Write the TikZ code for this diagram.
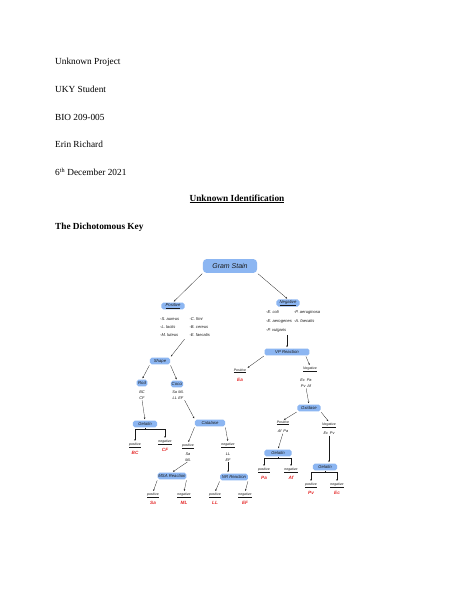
\documentclass[tikz,border=0pt]{standalone}
\usepackage{fontspec}
\setmainfont{Liberation Serif}
\newfontfamily\hand{Liberation Sans}
\usetikzlibrary{arrows.meta,calc}
\definecolor{hlblue}{RGB}{140,182,242}
\definecolor{inkred}{RGB}{228,38,38}
\definecolor{ink}{RGB}{25,25,25}
\begin{document}
\begin{tikzpicture}[x=1.2911pt,y=-1.2911pt,
 hdr/.style={anchor=west,inner sep=0pt,font=\fontsize{12}{14}\selectfont},
 hl/.style={fill=hlblue,rounded corners=2.5pt,inner xsep=1pt,inner ysep=1pt,minimum height=9pt,text=ink,font=\hand\itshape\fontsize{5.5}{6}\selectfont},
 hw/.style={inner sep=0.5pt,text=ink,font=\hand\itshape\fontsize{4.5}{5}\selectfont,align=center},
 lst/.style={inner sep=0pt,text=ink,font=\hand\itshape\fontsize{5.3}{10}\selectfont,align=left},
 sub/.style={inner sep=0.5pt,text=ink,font=\hand\itshape\fontsize{5}{7}\selectfont,align=center},
 leaf/.style={inner sep=0.5pt,text=inkred,font=\hand\bfseries\itshape\fontsize{6}{7}\selectfont},
 arr/.style={draw=ink,line width=0.35pt,-{Stealth[length=2.3pt,width=2pt]},shorten <=1pt,shorten >=1.5pt},
]
\useasboundingbox[fill=white] (0,0) rectangle (474,613);

% header text
\node[hdr] (h1) at (55,62) {Unknown Project};
\node[hdr] (h2) at (55,89) {UKY Student};
\node[hdr] (h3) at (55,117) {BIO 209-005};
\node[hdr] (h4) at (55,144) {Erin Richard};
\node[hdr] (h5) at (55,172) {6\textsuperscript{th} December 2021};
\node[inner sep=0pt,font=\fontsize{12}{14}\selectfont\bfseries] (title) at (237,199) {\underline{Unknown Identification}};
\node[hdr,font=\fontsize{12}{14}\selectfont\bfseries] (sub) at (55,227) {The Dichotomous Key};

% root
\node[hl,minimum width=70pt,minimum height=18pt,rounded corners=5pt,font=\hand\itshape\fontsize{9}{10}\selectfont] (gram) at (230,266) {Gram Stain};

% first level
\node[hl,minimum width=30pt] (pos) at (173,306) {\underline{Positive}};
\node[hl,minimum width=30pt] (neg) at (288,303) {\underline{Negative}};

\node[lst,anchor=north west] (posl) at (160,315) {\begin{tabular}{@{}p{38pt}@{}l@{}}-S. aureus & -C. fimi\\ -L. lactis & -B. cereus\\ -M. luteus & -E. faecalis\end{tabular}};
\node[lst,anchor=north west,font=\hand\itshape\fontsize{5.3}{11.5}\selectfont] (negl) at (266,307) {\begin{tabular}{@{}p{36pt}@{}l@{}}-E. coli & -P. aeruginosa\\ -E. aerogenes & -A. faecalis\\ -P. vulgaris & \end{tabular}};

\draw[arr] (gram.south west) -- (pos.north);
\draw[arr] (gram.south east) -- (neg.north);

% ---------- positive side ----------
\node[hl,minimum width=26pt] (shape) at (160,361) {Shape};
\draw[arr] (posl.south) -- (shape.north east);

\node[hl,minimum width=14pt] (rod) at (142,383) {Rod};
\node[hl,minimum width=15pt] (cocci) at (177,384) {Cocci};
\draw[arr] (shape.south west) -- (rod.north);
\draw[arr] (shape.south east) -- (cocci.north);

\node[sub] (rodl) at (142,395) {BC\\CF};
\node[sub] (coccil) at (178,395) {Sa\,\,ML\\LL\,\,EF};

\node[hl,minimum width=31pt] (gel0) at (145,424) {Gelatin};
\draw[arr] (rodl.south) -- (gel0.north);
\node[hl,minimum width=39pt] (cat) at (210,423) {Catalase};
\draw[arr] (coccil.south east) -- (cat.north west);

\node[hw] (g0p) at (135,445) {\underline{positive}};
\node[leaf] (g0pr) at (135,453) {BC};
\node[hw] (g0n) at (165,442) {\underline{negative}};
\node[leaf] (g0nr) at (165,450) {CF};
\draw[arr] (gel0.south) -- ++(0,1) -| (g0p.north);
\draw[arr] (gel0.south) -- ++(0,1) -| (g0n.north);

\node[hw] (catP) at (188,446) {\underline{positive}};
\node[sub] (catPl) at (188,457) {Sa\\ML};
\node[hw] (catN) at (228,445) {\underline{negative}};
\node[sub] (catNl) at (228,457) {LL\\EF};
\draw[arr] (cat.south west) -- (catP.north);
\draw[arr] (cat.south east) -- (catN.north);

\node[hl,minimum width=37pt] (msa) at (172,476) {MSA Reaction};
\node[hl,minimum width=36pt] (nr) at (234,477) {NR Reaction};
\draw[arr] (catPl.south) -- (msa.north);
\draw[arr] (catNl.south) -- (catNl.south |- nr.north);

\node[hw] (mp) at (153,495) {\underline{positive}};
\node[leaf] (mpr) at (153,503) {Sa};
\node[hw] (mn) at (184,495) {\underline{negative}};
\node[leaf] (mnr) at (184,503) {ML};
\draw[arr] (msa.south west) -- (mp.north);
\draw[arr] (msa.south east) -- (mn.north);

\node[hw] (np) at (215,495) {\underline{positive}};
\node[leaf] (npr) at (215,503) {LL};
\node[hw] (nn) at (245,495) {\underline{negative}};
\node[leaf] (nnr) at (245,503) {EF};
\draw[arr] (nr.south west) -- (np.north);
\draw[arr] (nr.south east) -- (nn.north);

% ---------- negative side ----------
\node[hl,minimum width=58pt] (vp) at (287,352) {VP Reaction};
\draw[arr] (vp.north |- negl.south) -- (vp.north);

\node[hw] (vpP) at (240,371) {\underline{Positive}};
\node[leaf] (vpPr) at (240,380) {Ea};
\node[hw] (vpN) at (310,369) {\underline{Negative}};
\node[sub] (vpNl) at (306,383) {Ec\,\,\,Pa\\Pv\,\,\,Af};
\draw[arr] (vp.south west) -- (vpP.north east);
\draw[arr] ($(vp.south east)+(-4,0)$) -- (vpN.north);

\node[hl,minimum width=30pt] (ox) at (309,408) {Oxidase};
\draw[arr] (vpNl.south) -- (ox.north);

\node[hw] (oxP) at (283,423) {\underline{Positive}};
\node[sub] (oxPl) at (283,431) {Af\,\,\,Pa};
\node[hw] (oxN) at (329,425) {\underline{Negative}};
\node[sub] (oxNl) at (329,433) {Ec\,\,\,Pv};
\draw[arr] (ox.south west) -- (oxP.north);
\draw[arr] (ox.south east) -- (oxN.north);

\node[hl,minimum width=35pt] (gel1) at (278,453) {Gelatin};
\node[hl,minimum width=31pt] (gel2) at (325,467) {Gelatin};
\draw[arr] (oxPl.south) -- (gel1.north);
\draw[arr] (oxNl.south) -- (oxNl.south |- gel2.north);

\node[hw] (g1p) at (264,470) {\underline{positive}};
\node[leaf] (g1pr) at (264,478) {Pa};
\node[hw] (g1n) at (291,470) {\underline{negative}};
\node[leaf] (g1nr) at (291,478) {Af};
\draw[arr] (gel1.south) -- ++(0,1) -| (g1p.north);
\draw[arr] (gel1.south) -- ++(0,1) -| (g1n.north);

\node[hw] (g2p) at (311,485) {\underline{positive}};
\node[leaf] (g2pr) at (311,493) {Pv};
\node[hw] (g2n) at (337,485) {\underline{negative}};
\node[leaf] (g2nr) at (337,493) {Ec};
\draw[arr] (gel2.south) -- ++(0,1) -| (g2p.north);
\draw[arr] (gel2.south) -- ++(0,1) -| (g2n.north);
\end{tikzpicture}
\end{document}
